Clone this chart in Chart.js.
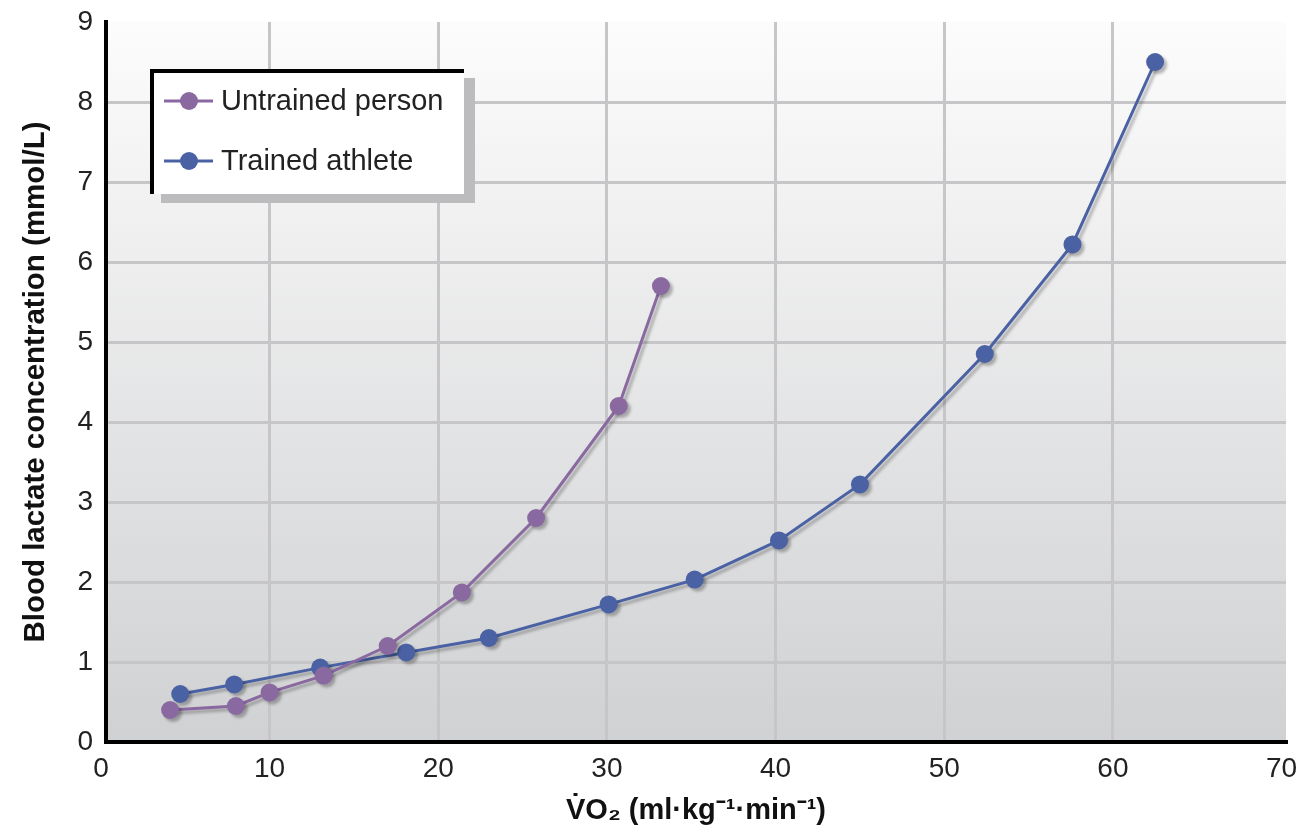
<!DOCTYPE html>
<html>
<head>
<meta charset="utf-8">
<title>Blood lactate vs VO2</title>
<script src="https://cdn.jsdelivr.net/npm/chart.js@4/dist/chart.umd.min.js"></script>
<style>
  html, body { margin: 0; padding: 0; background: #fff; }
  #wrap { position: relative; width: 1304px; height: 835px; }
</style>
</head>
<body>
<div id="wrap"><canvas id="chart"></canvas></div>
<script>
// values
const UNTRAINED_X = [4.1, 8.0, 10.0, 13.2, 17.0, 21.4, 25.8, 30.7, 33.2];
const UNTRAINED_Y = [0.4, 0.45, 0.62, 0.83, 1.2, 1.87, 2.8, 4.2, 5.7];
const TRAINED_X = [4.7, 7.9, 13.0, 18.1, 23.0, 30.1, 35.2, 40.2, 45.0, 52.4, 57.6, 62.5];
const TRAINED_Y = [0.6, 0.72, 0.93, 1.12, 1.3, 1.72, 2.03, 2.52, 3.22, 4.85, 6.22, 8.5];
const X_TICKS = [0, 10, 20, 30, 40, 50, 60, 70];
const Y_TICKS = [0, 1, 2, 3, 4, 5, 6, 7, 8, 9];

const PURPLE = "#8a69a1";
const BLUE = "#4a62a4";
const GRID = "#c6c6c8";
const FONT = "'Liberation Sans', Arial, sans-serif";

function toPoints(xs, ys) {
  return xs.map(function(x, i) { return { x: x, y: ys[i] }; });
}

function series(label, xs, ys, color) {
  return {
    label: label,
    data: toPoints(xs, ys),
    borderColor: color,
    backgroundColor: color,
    borderWidth: 3,
    pointRadius: 9,
    pointHoverRadius: 9,
    pointBorderWidth: 0,
    pointBackgroundColor: color,
    tension: 0,
    fill: false,
  };
}

// gradient plot background
const bgPlugin = {
  id: "plotBg",
  beforeDraw(chart) {
    const a = chart.chartArea, c = chart.ctx;
    const g = c.createLinearGradient(0, a.top, 0, a.bottom);
    g.addColorStop(0, "#fcfcfc");
    g.addColorStop(1, "#d0d1d3");
    c.save();
    c.fillStyle = g;
    c.fillRect(a.left, a.top, a.right - a.left, a.bottom - a.top);
    c.restore();
  },
};

// soft drop shadow under the lines
const shadowPlugin = {
  id: "lineShadow",
  beforeDatasetsDraw(chart) {
    const c = chart.ctx;
    c.save();
    c.shadowColor = "rgba(0,0,0,0.28)";
    c.shadowOffsetX = 3;
    c.shadowOffsetY = 3;
    c.shadowBlur = 3;
  },
  afterDatasetsDraw(chart) {
    chart.ctx.restore();
  },
};

// boxed legend inside the plot, top left
const legendPlugin = {
  id: "boxLegend",
  afterDraw(chart) {
    const c = chart.ctx;
    const bx = 150, by = 69, bw = 314, bh = 125;
    c.save();
    c.fillStyle = "#bcbcbe";
    c.fillRect(bx + 11, by + 9, bw, bh);
    c.fillStyle = "#fff";
    c.fillRect(bx, by, bw, bh);
    c.fillStyle = "#000";
    c.fillRect(bx, by, bw, 4);
    c.fillRect(bx, by, 4, bh);
    const rows = [101, 161];
    chart.data.datasets.forEach(function(ds, i) {
      const y = rows[i];
      c.strokeStyle = ds.borderColor;
      c.lineWidth = 3;
      c.beginPath();
      c.moveTo(164, y);
      c.lineTo(213, y);
      c.stroke();
      c.fillStyle = ds.borderColor;
      c.beginPath();
      c.arc(189, y, 9, 0, Math.PI * 2);
      c.fill();
      c.fillStyle = "#222";
      c.font = "29px " + FONT;
      c.textBaseline = "middle";
      c.textAlign = "left";
      c.fillText(ds.label, 221, y + 1);
    });
    c.restore();
  },
};

new Chart(document.getElementById("chart"), {
  type: "line",
  data: {
    datasets: [
      series("Untrained person", UNTRAINED_X, UNTRAINED_Y, PURPLE),
      series("Trained athlete", TRAINED_X, TRAINED_Y, BLUE),
    ],
  },
  options: {
    responsive: true,
    maintainAspectRatio: false,
    animation: false,
    layout: { autoPadding: false, padding: { top: 22, right: 18, left: 0, bottom: 0 } },
    plugins: { legend: { display: false }, tooltip: { enabled: false } },
    scales: {
      x: {
        type: "linear",
        // the original's y axis sits a touch right of x = 0
        min: 0.3,
        max: 70.26,
        afterBuildTicks(s) { s.ticks = X_TICKS.map(function(v) { return { value: v }; }); },
        afterFit(s) {
          s.height = 93;
          s.paddingLeft = 0;
          s.paddingRight = 0;
        },
        grid: {
          drawTicks: false,
          lineWidth: 3,
          color: function(ctx) {
            const v = ctx.tick && ctx.tick.value;
            return v === 70 || v === 0 ? "rgba(0,0,0,0)" : GRID;
          },
        },
        border: { color: "#000", width: 4 },
        ticks: { padding: 10, color: "#222", font: { family: FONT, size: 28 } },
        title: {
          display: true,
          text: "V\u0307O\u2082 (ml\u00b7kg\u207b\u00b9\u00b7min\u207b\u00b9)",
          color: "#111",
          font: { family: FONT, size: 29, weight: "bold" },
          padding: { bottom: 7, top: 0 },
        },
      },
      y: {
        type: "linear",
        min: 0,
        max: 9,
        afterBuildTicks(s) { s.ticks = Y_TICKS.map(function(v) { return { value: v }; }); },
        afterFit(s) {
          s.width = 106;
          s.paddingTop = 0;
          s.paddingBottom = 0;
        },
        grid: {
          drawTicks: false,
          lineWidth: 3,
          color: function(ctx) { return ctx.tick && ctx.tick.value === 9 ? "rgba(0,0,0,0)" : GRID; },
        },
        border: { color: "#000", width: 4 },
        ticks: { padding: 13, color: "#222", font: { family: FONT, size: 28 } },
        title: {
          display: true,
          text: "Blood lactate concentration (mmol/L)",
          color: "#111",
          font: { family: FONT, size: 29.5, weight: "bold" },
          padding: { top: 18, bottom: 0 },
        },
      },
    },
  },
  plugins: [bgPlugin, shadowPlugin, legendPlugin],
});
</script>
</body>
</html>
